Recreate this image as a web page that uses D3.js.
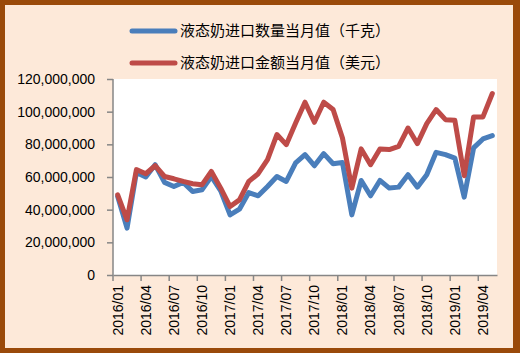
<!DOCTYPE html>
<html>
<head>
<meta charset="utf-8">
<script src="https://cdn.jsdelivr.net/npm/d3@7"></script>
<style>
  body { margin: 0; padding: 0; background: #fff; }
  svg { display: block; }
  text { font-family: "Liberation Sans", Arial, "Noto Sans CJK SC", sans-serif; }
</style>
</head>
<body>
<svg id="chart" width="520" height="353"></svg>
<script>
// monthly data, 2016/01 .. 2019/05
var months = [
  "2016/01","2016/02","2016/03","2016/04","2016/05","2016/06","2016/07","2016/08","2016/09","2016/10","2016/11","2016/12",
  "2017/01","2017/02","2017/03","2017/04","2017/05","2017/06","2017/07","2017/08","2017/09","2017/10","2017/11","2017/12",
  "2018/01","2018/02","2018/03","2018/04","2018/05","2018/06","2018/07","2018/08","2018/09","2018/10","2018/11","2018/12",
  "2019/01","2019/02","2019/03","2019/04","2019/05"];
var tickLabels = ["2016/01","2016/04","2016/07","2016/10","2017/01","2017/04","2017/07",
                  "2017/10","2018/01","2018/04","2018/07","2018/10","2019/01","2019/04"];

// 液态奶进口数量当月值（千克）, millions
var qty = [48.0, 28.7, 62.8, 60.0, 67.5, 56.7, 54.2, 56.7, 51.1, 52.2,
           60.3, 51.5, 36.8, 40.3, 50.5, 48.5, 54.2, 60.3, 57.3, 68.6,
           73.7, 66.9, 74.3, 68.1, 68.9, 36.8, 57.9, 48.5, 57.9, 53.2,
           53.8, 61.4, 53.8, 61.4, 75.1, 73.7, 71.6, 47.7, 77.8, 83.3, 85.3];
// 液态奶进口金额当月值（美元）, millions
var amt = [49.1, 33.8, 64.5, 62.0, 66.9, 60.3, 58.9, 57.3, 55.9, 55.2,
           63.4, 53.2, 41.9, 46.0, 57.3, 62.0, 70.6, 86.0, 79.8, 93.1,
           105.8, 93.5, 105.8, 101.3, 83.9, 53.2, 77.2, 67.5, 77.2, 76.8,
           78.8, 90.0, 80.4, 92.7, 101.3, 95.1, 94.7, 60.8, 96.8, 96.8, 111.1];
var yTicks = [0, 20, 40, 60, 80, 100, 120];

var seriesNames = ["液态奶进口数量当月值（千克）", "液态奶进口金额当月值（美元）"];
var seriesColors = ["#4a7ebb", "#be4b48"];
var seriesData = [qty, amt];

var svg = d3.select("svg");
var W = 520, H = 353;

// outer frame
svg.append("rect").attr("x", 0).attr("y", 0).attr("width", W).attr("height", H)
  .style("fill", "#9a4a0a");
svg.append("rect").attr("x", 5).attr("y", 5).attr("width", W - 12).attr("height", H - 10)
  .style("fill", "#fde9d9");

var pLeft = 113, pRight = 497, pTop = 79, pBottom = 275;

var x = d3.scaleBand().domain(months).range([pLeft, pRight]);
var y = d3.scaleLinear().domain([0, 120]).range([pBottom, pTop]);

// plot area
svg.append("rect").attr("x", pLeft).attr("y", pTop)
  .attr("width", pRight - pLeft).attr("height", pBottom - pTop)
  .style("fill", "#ffffff");

// y axis
var yAxis = svg.append("g").attr("transform", "translate(" + pLeft + ",0)")
  .call(d3.axisLeft(y).tickValues(yTicks).tickSize(6).tickPadding(12)
    .tickFormat(function(d) { return d == 0 ? "0" : d3.format(",")(d * 1000000) }));
yAxis.selectAll("path, line").style("stroke", "#868686").style("stroke-width", 1.5);
yAxis.select(".domain").attr("d", "M0," + pTop + "V" + pBottom);
yAxis.selectAll("text").style("font-size", "14px").style("fill", "#000");

// x axis
var xAxis = svg.append("g").attr("transform", "translate(0," + pBottom + ")")
  .call(d3.axisBottom(x).tickValues(tickLabels).tickSize(0).tickSizeOuter(0));
xAxis.select(".domain").style("stroke", "#868686").style("stroke-width", 1.5);
xAxis.selectAll(".tick line").remove();
xAxis.selectAll(".tick").append("line")
  .attr("x1", -x.bandwidth() / 2).attr("x2", -x.bandwidth() / 2)
  .attr("y1", 0).attr("y2", 6)
  .style("stroke", "#868686").style("stroke-width", 1.5);
xAxis.selectAll(".tick text")
  .attr("transform", "rotate(-90)")
  .attr("x", -10).attr("y", 0).attr("dy", "0.35em")
  .style("text-anchor", "end")
  .style("font-size", "14px").style("fill", "#000");

// lines
var line = d3.line()
  .x(function(d, i) { return x(months[i]) + x.bandwidth() / 2 })
  .y(function(d) { return y(d) });

seriesData.forEach(function(s, k) {
  svg.append("path").datum(s)
    .attr("d", line)
    .style("fill", "none")
    .style("stroke", seriesColors[k])
    .style("stroke-width", 5)
    .style("stroke-linejoin", "round")
    .style("stroke-linecap", "round");
});

// legend
var legend = svg.selectAll(".legend").data(seriesNames).enter()
  .append("g").attr("class", "legend")
  .attr("transform", function(d, i) { return "translate(0," + (31 + i * 32) + ")" });
legend.append("line")
  .attr("x1", 132).attr("x2", 175).attr("y1", 0).attr("y2", 0)
  .style("stroke", function(d, i) { return seriesColors[i] })
  .style("stroke-width", 5)
  .style("stroke-linecap", "round");
legend.append("text")
  .attr("x", 180).attr("y", 0).attr("dy", "0.35em")
  .style("font-size", "15px").style("fill", "#000")
  .style("font-family", "'Noto Sans CJK SC', sans-serif")
  .text(function(d) { return d });
</script>
</body>
</html>
